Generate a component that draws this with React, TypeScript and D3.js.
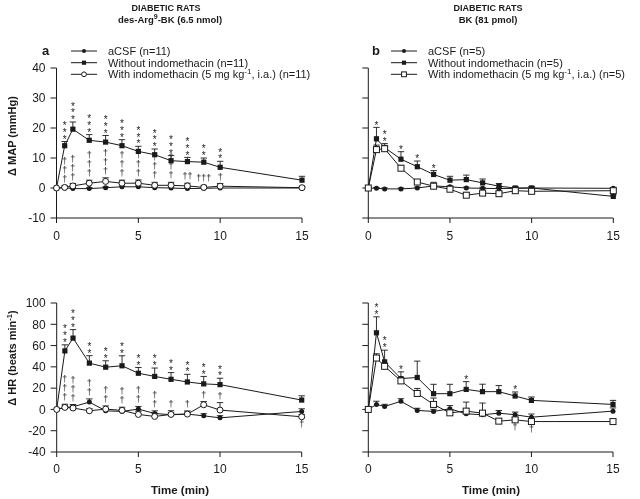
import React from 'react';
import * as d3 from 'd3';

// ---------- data ----------
const times = [0, 0.5, 1, 2, 3, 4, 5, 6, 7, 8, 9, 10, 15];
const xTickValues = [0, 5, 10, 15];
const mapTickValues = [-10, 0, 10, 20, 30, 40];
const hrTickValues = [-40, -20, 0, 20, 40, 60, 80, 100];

// Panel a – MAP (des-Arg9-BK)
const mapA_acsf = [0, 0, -0.2, -0.2, 0.1, 0.4, 0.4, 0.1, 0, -0.2, -0.1, 0, 0];
const mapA_acsfErr = [0, 0.3, 0.3, 0.3, 0.3, 0.3, 0.3, 0.3, 0.3, 0.3, 0.3, 0.3, 0.3];
const mapA_without = [0, 14.1, 19.6, 15.9, 15.3, 14.1, 12.2, 11.1, 9.1, 8.8, 8.6, 6.9, 2.6];
const mapA_withoutErr = [0, 1.4, 2.4, 1.9, 2.2, 2.0, 1.7, 1.9, 1.7, 1.4, 1.4, 2.0, 1.3];
const mapA_with = [0, 0.2, 0.7, 1.6, 2.2, 1.6, 1.6, 0.9, 0.9, 0.7, 0.2, 0.6, 0.1];
const mapA_withErr = [0, 0.6, 0.8, 1.0, 1.2, 1.0, 1.1, 1.0, 1.0, 0.9, 0.7, 0.9, 0.5];
const mapA_stars = [0, 3, 3, 3, 3, 3, 3, 3, 3, 3, 2, 2, 0];
const mapA_daggers = ['', '†|†|†', '†|†|†', '†|†|†', '†|†|†', '†|†|†', '†|†|†', '†|†|†', '†|†|†', '††', '†††', '†', ''];
const mapA_daggersBelow = [0, 0, 0, 0, 0, 0, 0, 0, 0, 0, 0, 0, 0];

// Panel b – MAP (BK)
const mapB_acsf = [0, -0.1, -0.3, -0.3, 0, 0.7, 0.4, 0, -0.1, -0.2, -0.1, 0, -0.1];
const mapB_acsfErr = [0, 0.3, 0.3, 0.3, 0.3, 0.3, 0.3, 0.3, 0.3, 0.3, 0.3, 0.3, 0.3];
const mapB_without = [0, 16.4, 13.5, 9.6, 7.1, 4.5, 2.6, 2.8, 1.7, 0.6, 0, 0, -2.8];
const mapB_withoutErr = [0, 3.8, 1.3, 2.5, 1.9, 1.3, 1.3, 1.5, 1.3, 0.9, 0.5, 0.5, 0.4];
const mapB_with = [0, 12.8, 13.1, 6.6, 2.0, 0.6, -0.4, -2.4, -1.7, -1.9, -0.9, -1.1, -0.9];
const mapB_withErr = [0, 1.5, 1.0, 0.8, 0.6, 1.3, 0.5, 0.9, 0.6, 0.6, 0.5, 0.5, 0.5];
const mapB_stars = [0, 1, 2, 1, 1, 1, 0, 0, 0, 0, 0, 0, 0];
const mapB_daggers = ['', '', '', '', '', '', '', '', '', '', '', '', ''];
const mapB_daggersBelow = [0, 0, 0, 0, 0, 0, 0, 0, 0, 0, 0, 0, 0];

// Panel a – HR (des-Arg9-BK)
const hrA_acsf = [0, 1.9, 2.5, 6.9, -1.3, -1.9, 0.3, -3.8, -5, -4.4, -6, -7.9, -1.9];
const hrA_acsfErr = [0, 2, 2, 3, 2, 2, 2.5, 2.5, 2, 2, 2, 2, 2.5];
const hrA_without = [0, 55, 67, 43.5, 39.7, 41, 34, 31, 28.3, 25.8, 24, 23.3, 8.8];
const hrA_withoutErr = [0, 5.7, 8, 7, 6, 9.4, 5.4, 7.9, 6.3, 7.2, 7, 6, 4];
const hrA_with = [0, 1.9, 1.3, -1.3, 0.3, -0.9, -4.7, -6.6, -4.7, -4.4, 4.4, -0.6, -6.9];
const hrA_withErr = [0, 3, 3, 2, 3, 3, 3, 3, 3.5, 3, 3, 7, 2];
const hrA_stars = [0, 3, 3, 2, 2, 2, 2, 2, 2, 2, 2, 2, 0];
const hrA_daggers = ['', '†|†|†', '†|†|†', '†|†', '†|†', '†|†', '†|†', '†|†', '†', '†', '†', '†', ''];
const hrA_daggersBelow = [0, 0, 0, 0, 0, 0, 0, 0, 0, 0, 0, 0, 1];

// Panel b – HR (BK)
const hrB_acsf = [0, 4.7, 2.8, 7.6, -0.9, -1.9, 0.6, -4.1, -5, -3.5, -5, -7.3, -1.6];
const hrB_acsfErr = [0, 3, 2, 2.5, 2, 2, 3, 2, 2, 2.5, 2.5, 3, 3];
const hrB_without = [0, 72, 44.7, 29, 30, 14.8, 14.8, 18.8, 16.7, 16.7, 12.6, 8.5, 4.7];
const hrB_withoutErr = [0, 15, 11, 6.3, 15.4, 8.8, 8.8, 7.3, 7, 5.7, 3.8, 3.2, 3.8];
const hrB_with = [0, 48.3, 40.5, 26.8, 15, 4.7, -3.2, -1.6, -3.5, -11, -9.8, -11.4, -11.4];
const hrB_withErr = [0, 4, 3, 3, 4.7, 6, 2, 8.5, 9.5, 2, 2, 2, 2];
const hrB_stars = [0, 2, 2, 1, 0, 0, 0, 1, 0, 0, 1, 0, 0];
const hrB_daggers = ['', '', '', '', '', '', '', '', '', '', '', '', ''];
const hrB_daggersBelow = [0, 0, 0, 0, 0, 0, 0, 0, 0, 0, 1, 1, 0];

// ---------- drawing ----------
const FONT = 'Liberation Sans, Arial, Helvetica, sans-serif';
const INK = '#1a1a1a';

type MarkerKind = 'dot' | 'square' | 'openCircle' | 'openSquare';

function Marker({ kind, cx, cy, small }: { kind: MarkerKind; cx: number; cy: number; small?: boolean }) {
  const s = small ? 0.8 : 1;
  if (kind === 'dot') return <circle cx={cx} cy={cy} r={2.5 * s} fill={INK} />;
  if (kind === 'square') return <rect x={cx - 2.6 * s} y={cy - 2.6 * s} width={5.2 * s} height={5.2 * s} fill={INK} />;
  if (kind === 'openCircle') return <circle cx={cx} cy={cy} r={3 * s} fill="#fff" stroke={INK} strokeWidth={1} />;
  return <rect x={cx - 3 * s} y={cy - 3 * s} width={6 * s} height={6 * s} fill="#fff" stroke={INK} strokeWidth={1} />;
}

type Series = { values: number[]; errors: number[]; kind: MarkerKind };

function Panel(props: {
  xRange: [number, number];
  yDomain: [number, number];
  yRange: [number, number];
  yTicks: number[];
  showYLabels: boolean;
  xLabelY: number;
  acsf: Series;
  without: Series;
  withIndo: Series;
  stars: number[];
  daggers: string[];
  daggersBelow: number[];
}) {
  const { xRange, yDomain, yRange, yTicks, showYLabels, xLabelY, acsf, without, withIndo, stars, daggers, daggersBelow } = props;
  const x = d3.scaleLinear().domain([0, 15]).range(xRange);
  const y = d3.scaleLinear().domain(yDomain).range(yRange);
  const line = d3.line<number>().x((_, i) => x(times[i])).y((d) => y(d));
  const all = [acsf, without, withIndo];
  const axisX = xRange[0];
  const axisY = yRange[0];
  const starGap = 6.8;
  const dagGap = 9;
  return (
    <g>
      {/* axes */}
      <line x1={axisX} x2={axisX} y1={y(yDomain[1])} y2={axisY} stroke={INK} strokeWidth={1} />
      <line x1={axisX} x2={x(15)} y1={axisY} y2={axisY} stroke={INK} strokeWidth={1} />
      {yTicks.map((t) => (
        <g key={'yt' + t}>
          <line x1={axisX - 6} x2={axisX} y1={y(t)} y2={y(t)} stroke={INK} strokeWidth={1} />
          {showYLabels && (
            <text x={axisX - 11} y={y(t) + 4.3} fontSize={12} textAnchor="end" fill={INK} fontFamily={FONT}>
              {t}
            </text>
          )}
        </g>
      ))}
      {xTickValues.map((t) => (
        <g key={'xt' + t}>
          <line x1={x(t)} x2={x(t)} y1={axisY} y2={axisY + 5} stroke={INK} strokeWidth={1} />
          <text x={x(t)} y={xLabelY} fontSize={12} textAnchor="middle" fill={INK} fontFamily={FONT}>
            {t}
          </text>
        </g>
      ))}
      {/* lines */}
      {all.map((s, k) => (
        <path key={'l' + k} d={line(s.values) || ''} fill="none" stroke={INK} strokeWidth={1} />
      ))}
      {/* error bars */}
      {all.map((s, k) =>
        s.values.map((v, i) =>
          s.errors[i] > 0 ? (
            <g key={'e' + k + '-' + i}>
              <line x1={x(times[i])} x2={x(times[i])} y1={y(v)} y2={y(v + s.errors[i])} stroke={INK} strokeWidth={0.9} />
              <line x1={x(times[i]) - 3.2} x2={x(times[i]) + 3.2} y1={y(v + s.errors[i])} y2={y(v + s.errors[i])} stroke={INK} strokeWidth={0.9} />
            </g>
          ) : null
        )
      )}
      {/* markers */}
      {all.map((s, k) =>
        s.values.map((v, i) => <Marker key={'m' + k + '-' + i} kind={s.kind} cx={x(times[i])} cy={y(v)} />)
      )}
      {/* significance annotations */}
      <g>
        {stars.map((n, i) => {
          if (!n) return null;
          const top = y(without.values[i] + without.errors[i]);
          const cx = x(times[i]);
          const firstBase = top - 4.5 - (n - 1) * starGap + 5.6;
          return (
            <text key={'s' + i} fontSize={10} textAnchor="middle" fill={INK} fontFamily={FONT}>
              {d3.range(n).map((j) => (
                <tspan key={j} x={cx} y={firstBase + j * starGap}>*</tspan>
              ))}
            </text>
          );
        })}
        {daggers.map((str, i) => {
          if (!str) return null;
          const base = Math.min(
            y(acsf.values[i] + acsf.errors[i]),
            y(withIndo.values[i] + withIndo.errors[i])
          );
          const rows = str.split('|');
          const cx = x(times[i]);
          const firstBase = base - 6.5 - (rows.length - 1) * dagGap + 2.5;
          return (
            <text key={'d' + i} fontSize={9} textAnchor="middle" fill={INK} fontFamily={FONT}>
              {rows.map((r, j) => (
                <tspan key={j} x={cx} y={firstBase + j * dagGap}>{r}</tspan>
              ))}
            </text>
          );
        })}
        {daggersBelow.map((n, i) => {
          if (!n) return null;
          const cx = x(times[i]);
          return (
            <text key={'db' + i} fontSize={9} textAnchor="middle" fill={INK} fontFamily={FONT}>
              {d3.range(n).map((j) => (
                <tspan key={j} x={cx} y={y(withIndo.values[i]) + 8 + j * dagGap + 2.5}>†</tspan>
              ))}
            </text>
          );
        })}
      </g>
    </g>
  );
}

function Legend({ x0, n, openKind }: { x0: number; n: number; openKind: MarkerKind }) {
  const rows: { kind: MarkerKind; label: React.ReactNode }[] = [
    { kind: 'dot', label: `aCSF (n=${n})` },
    { kind: 'square', label: `Without indomethacin (n=${n})` },
    {
      kind: openKind,
      label: (
        <>
          With indomethacin (5 mg kg
          <tspan dy={-4} fontSize={8}>-1</tspan>
          <tspan dy={4}>, i.a.) (n={n})</tspan>
        </>
      ),
    },
  ];
  const ys = [51, 62.7, 74.3];
  return (
    <g>
      {rows.map((r, i) => (
        <g key={i}>
          <line x1={x0} x2={x0 + 26} y1={ys[i]} y2={ys[i]} stroke={INK} strokeWidth={1} />
          <Marker kind={r.kind} cx={x0 + 13} cy={ys[i]} small />
          <text x={x0 + 37} y={ys[i] + 4} fontSize={11} fill={INK} fontFamily={FONT}>
            {r.label}
          </text>
        </g>
      ))}
    </g>
  );
}

export default function App() {
  const mk = (values: number[], errors: number[], kind: MarkerKind): Series => ({ values, errors, kind });
  return (
    <svg
      width={640}
      height={499}
      style={{ position: 'absolute', left: 0, top: 0, background: '#fff', filter: 'grayscale(100%)' }}
      fontFamily={FONT}
    >
      <rect x={0} y={0} width={640} height={499} fill="#fff" />
      {/* titles */}
      <text x={166} y={11} fontSize={9} fontWeight="bold" textAnchor="middle" fill={INK}>DIABETIC RATS</text>
      <text x={170} y={23} fontSize={9.5} fontWeight="bold" textAnchor="middle" fill={INK}>
        des-Arg<tspan dy={-4} fontSize={7}>9</tspan><tspan dy={4}>-BK (6.5 nmol)</tspan>
      </text>
      <text x={488} y={11} fontSize={9} fontWeight="bold" textAnchor="middle" fill={INK}>DIABETIC RATS</text>
      <text x={488} y={23} fontSize={9.5} fontWeight="bold" textAnchor="middle" fill={INK}>BK (81 pmol)</text>

      <text x={42} y={55} fontSize={13} fontWeight="bold" fill={INK}>a</text>
      <text x={372} y={55} fontSize={13} fontWeight="bold" fill={INK}>b</text>

      <Legend x0={71} n={11} openKind="openCircle" />
      <Legend x0={391} n={5} openKind="openSquare" />

      {/* axis titles */}
      <text transform="translate(16,136) rotate(-90)" fontSize={11} fontWeight="bold" textAnchor="middle" fill={INK}>Δ MAP (mmHg)</text>
      <text transform="translate(16,358) rotate(-90)" fontSize={11} fontWeight="bold" textAnchor="middle" fill={INK}>
        Δ HR (beats min<tspan dy={-4} fontSize={7.5}>-1</tspan><tspan dy={4}>)</tspan>
      </text>
      <text x={180} y={494} fontSize={11.5} fontWeight="bold" textAnchor="middle" fill={INK}>Time (min)</text>
      <text x={491} y={494} fontSize={11.5} fontWeight="bold" textAnchor="middle" fill={INK}>Time (min)</text>

      <Panel
        xRange={[56.5, 302]} yDomain={[-10, 40]} yRange={[218, 68]} yTicks={mapTickValues} showYLabels xLabelY={240}
        acsf={mk(mapA_acsf, mapA_acsfErr, 'dot')}
        without={mk(mapA_without, mapA_withoutErr, 'square')}
        withIndo={mk(mapA_with, mapA_withErr, 'openCircle')}
        stars={mapA_stars} daggers={mapA_daggers} daggersBelow={mapA_daggersBelow}
      />
      <Panel
        xRange={[368.3, 613.3]} yDomain={[-10, 40]} yRange={[218, 68]} yTicks={mapTickValues} showYLabels={false} xLabelY={240}
        acsf={mk(mapB_acsf, mapB_acsfErr, 'dot')}
        without={mk(mapB_without, mapB_withoutErr, 'square')}
        withIndo={mk(mapB_with, mapB_withErr, 'openSquare')}
        stars={mapB_stars} daggers={mapB_daggers} daggersBelow={mapB_daggersBelow}
      />
      <Panel
        xRange={[56.7, 301.7]} yDomain={[-40, 100]} yRange={[452, 303]} yTicks={hrTickValues} showYLabels xLabelY={473}
        acsf={mk(hrA_acsf, hrA_acsfErr, 'dot')}
        without={mk(hrA_without, hrA_withoutErr, 'square')}
        withIndo={mk(hrA_with, hrA_withErr, 'openCircle')}
        stars={hrA_stars} daggers={hrA_daggers} daggersBelow={hrA_daggersBelow}
      />
      <Panel
        xRange={[368.3, 613]} yDomain={[-40, 100]} yRange={[452, 303]} yTicks={hrTickValues} showYLabels={false} xLabelY={473}
        acsf={mk(hrB_acsf, hrB_acsfErr, 'dot')}
        without={mk(hrB_without, hrB_withoutErr, 'square')}
        withIndo={mk(hrB_with, hrB_withErr, 'openSquare')}
        stars={hrB_stars} daggers={hrB_daggers} daggersBelow={hrB_daggersBelow}
      />
    </svg>
  );
}
